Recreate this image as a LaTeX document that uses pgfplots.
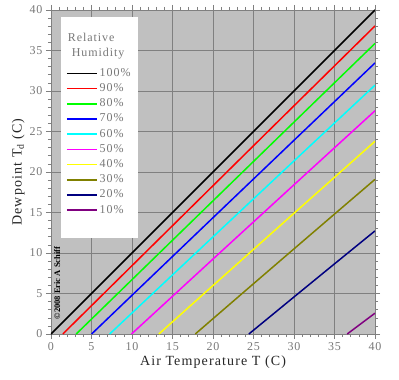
\documentclass[border=0pt]{standalone}
\usepackage{fontspec}
\setmainfont{Liberation Serif}[LetterSpace=8]
\newfontfamily\plainserif{Liberation Serif}
\usepackage{pgfplots}
\pgfplotsset{compat=1.18}
\definecolor{bg}{RGB}{192,192,192}
\definecolor{gridc}{RGB}{128,128,128}
\definecolor{txtgray}{RGB}{120,120,120}
\definecolor{cgreen}{RGB}{0,255,0}
\definecolor{ccyan}{RGB}{0,255,255}
\definecolor{cmag}{RGB}{255,0,255}
\definecolor{cyel}{RGB}{255,255,0}
\definecolor{colive}{RGB}{128,128,0}
\definecolor{cnavy}{RGB}{0,0,128}
\definecolor{cpurp}{RGB}{128,0,128}
\begin{document}
\begin{tikzpicture}
\useasboundingbox (-51pt,-46pt) rectangle (348pt,334pt);
\begin{axis}[
  scale only axis, width=324pt, height=324pt,
  xmin=0, xmax=40, ymin=0, ymax=40,
  xtick={0,5,...,40}, ytick={0,5,...,40},
  minor tick num=4,
  tick align=outside,
  major tick length=5pt, minor tick length=3pt,
  grid=major, major grid style={gridc, line width=0.8pt},
  axis background/.style={fill=bg},
  axis line style={gridc, line width=0.8pt},
  every tick/.style={gridc, line width=0.6pt},
  tick label style={font=\fontsize{12}{12}\selectfont, text=txtgray},
  /pgf/number format/assume math mode=true,
  xlabel={Air Temperature T (C)},
  ylabel={Dewpoint T\textsubscript{d} (C)},
  label style={font=\fontsize{14}{14}\selectfont, text=black!85},
  xlabel style={yshift=2pt},
  ylabel style={yshift=-2pt},
  every axis plot/.append style={line width=1.5pt},
  legend image code/.code={\draw[#1, line width=1.5pt] (0pt,0pt) -- (30pt,0pt);},
  legend style={at={(axis cs:1.85,33.0)}, anchor=north west, fill=none, draw=none,
    inner sep=0pt, font=\fontsize{12}{12}\selectfont, text=txtgray,
    nodes={inner ysep=1pt, inner xsep=2pt, text height=8.5pt, text depth=2.5pt},
    row sep=2.2pt},
  legend cell align=left,
]
\fill[white] (axis cs:1.23,39.1) rectangle (axis cs:10.7,11.85);
\addplot[black] coordinates {(0,0) (40,40)};
\addlegendentry{100\%}
\addplot[red] coordinates {(1.459,0) (10,8.435) (20,18.307) (30,28.174) (40,38.03)};
\addlegendentry{90\%}
\addplot[cgreen] coordinates {(3.111,0) (10,6.709) (20,16.44) (30,26.16) (40,35.87)};
\addlegendentry{80\%}
\addplot[blue] coordinates {(5.013,0) (10,4.781) (20,14.357) (30,23.915) (40,33.46)};
\addlegendentry{70\%}
\addplot[ccyan] coordinates {(7.245,0) (10,2.593) (20,11.993) (30,21.37) (40,30.72)};
\addlegendentry{60\%}
\addplot[cmag] coordinates {(9.939,0) (20,9.254) (30,18.423) (40,27.56)};
\addlegendentry{50\%}
\addplot[cyel] coordinates {(13.318,0) (20,5.983) (30,14.906) (40,23.79)};
\addlegendentry{40\%}
\addplot[colive] coordinates {(17.813,0) (20,1.892) (25,6.208) (30,10.512) (35,14.805) (40,19.09)};
\addlegendentry{30\%}
\addplot[cnavy] coordinates {(24.429,0) (30,4.573) (35,8.660) (40,12.73)};
\addlegendentry{20\%}
\addplot[cpurp] coordinates {(36.568,0) (38,1.075) (40,2.574)};
\addlegendentry{10\%}
\node[align=left, text=txtgray, font=\fontsize{12}{15}\selectfont, anchor=north west, inner sep=0pt]
  at (axis cs:2.05,37.2) {Relative\\[-0.2pt]\ Humidity};
\node[rotate=90, font=\plainserif\bfseries\fontsize{8.5}{8.5}\selectfont, inner sep=0pt]
  at (axis cs:0.75,6.3) {\textcopyright 2008 Eric A Schiff};
\end{axis}
\end{tikzpicture}
\end{document}
